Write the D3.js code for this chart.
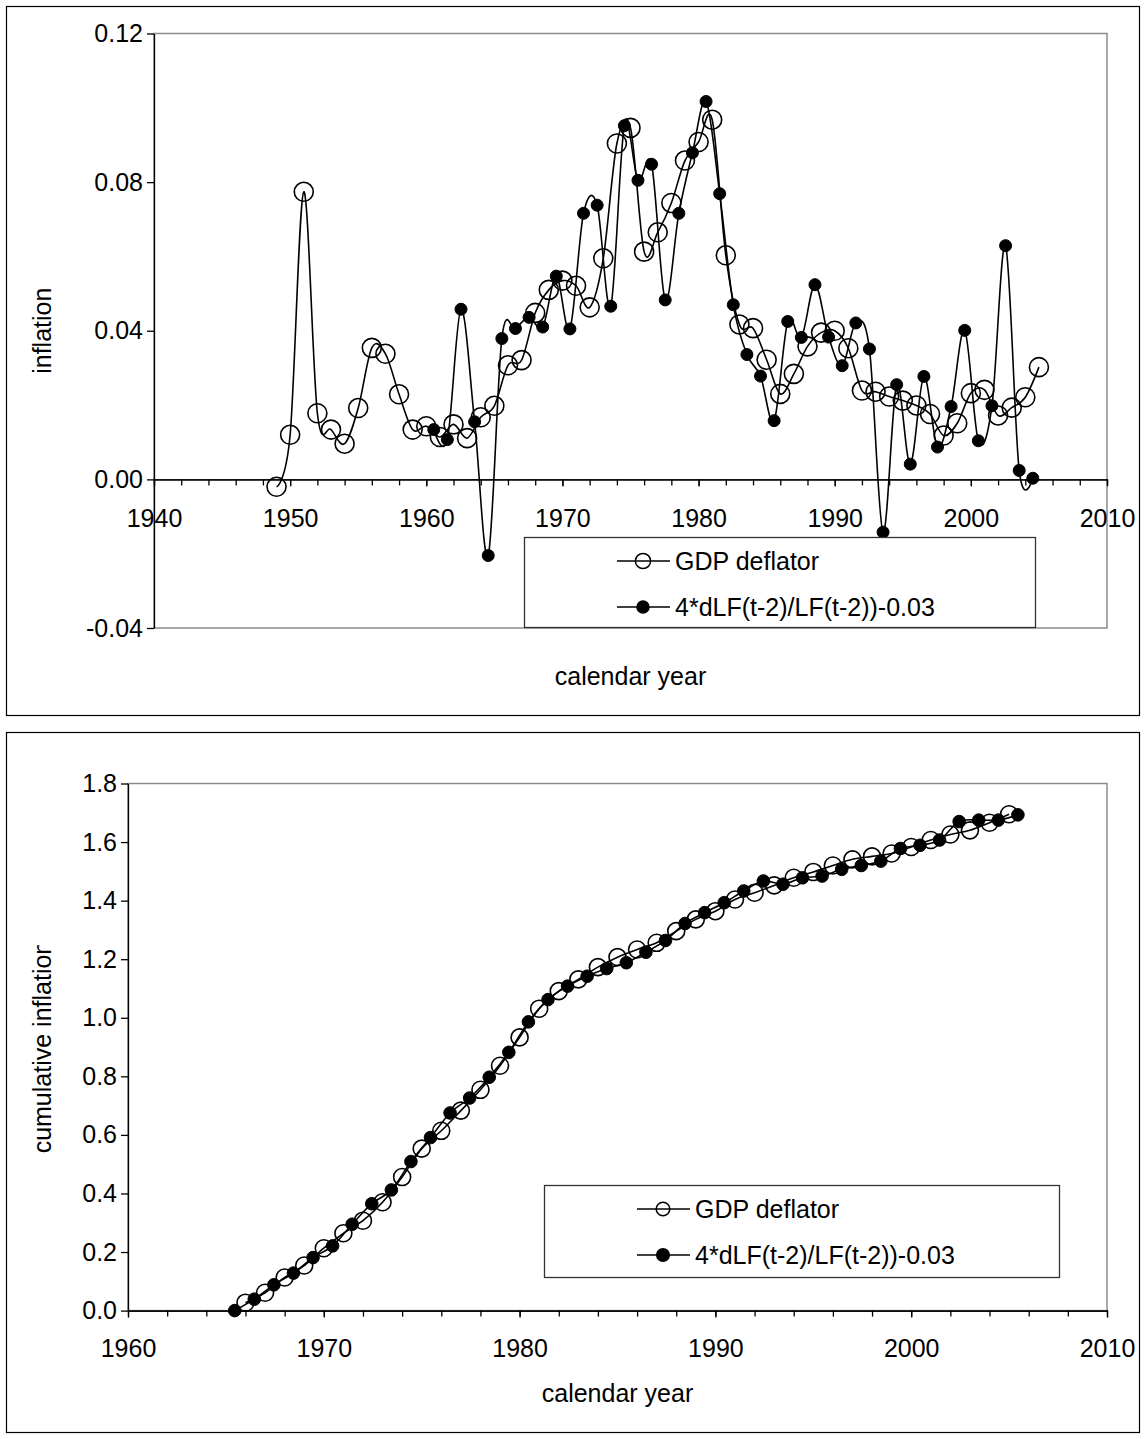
<!DOCTYPE html>
<html><head><meta charset="utf-8">
<script src="https://cdn.jsdelivr.net/npm/d3@7"></script>
<style>
html,body{margin:0;padding:0;background:#fff;}
text{font-family:"Liberation Sans",Arial,sans-serif;fill:#000;}
</style></head>
<body>
<svg id="chart" width="1146" height="1439"></svg>
<script>
// ---------- DATA ----------
const seriesNames = ["GDP deflator", "4*dLF(t-2)/LF(t-2))-0.03"];

// Top chart: annual inflation
const gdpYears = [1949,1950,1951,1952,1953,1954,1955,1956,1957,1958,1959,1960,1961,1962,1963,1964,1965,1966,1967,1968,1969,1970,1971,1972,1973,1974,1975,1976,1977,1978,1979,1980,1981,1982,1983,1984,1985,1986,1987,1988,1989,1990,1991,1992,1993,1994,1995,1996,1997,1998,1999,2000,2001,2002,2003,2004,2005];
const gdpInflation = [-0.002,0.012,0.0774,0.0178,0.0134,0.0096,0.0192,0.0354,0.0338,0.0229,0.0134,0.0143,0.0114,0.0148,0.0111,0.0167,0.0198,0.0307,0.0321,0.0448,0.0510,0.0535,0.0521,0.0463,0.0595,0.0904,0.0946,0.0613,0.0665,0.0744,0.0858,0.0908,0.0968,0.0603,0.0417,0.0407,0.0322,0.0230,0.0284,0.0358,0.0395,0.0400,0.0353,0.0239,0.0236,0.0223,0.0212,0.0199,0.0176,0.0118,0.0151,0.0232,0.0241,0.0172,0.0193,0.0221,0.0302];

const lfYears = [1960.55,1961.55,1962.55,1963.55,1964.55,1965.55,1966.55,1967.55,1968.55,1969.55,1970.55,1971.55,1972.55,1973.55,1974.55,1975.55,1976.55,1977.55,1978.55,1979.55,1980.55,1981.55,1982.55,1983.55,1984.55,1985.55,1986.55,1987.55,1988.55,1989.55,1990.55,1991.55,1992.55,1993.55,1994.55,1995.55,1996.55,1997.55,1998.55,1999.55,2000.55,2001.55,2002.55,2003.55,2004.55];
const lfInflation = [0.0134,0.0107,0.0458,0.0155,-0.0205,0.0379,0.0406,0.0436,0.0410,0.0547,0.0405,0.0716,0.0738,0.0466,0.0952,0.0805,0.0848,0.0483,0.0716,0.0879,0.1017,0.0769,0.0470,0.0336,0.0278,0.0158,0.0425,0.0382,0.0524,0.0383,0.0306,0.0421,0.0351,-0.0142,0.0255,0.0041,0.0277,0.0087,0.0196,0.0401,0.0104,0.0198,0.0629,0.0024,0.0003];

// Bottom chart: cumulative inflation
const gdpCumYears = [1966,1967,1968,1969,1970,1971,1972,1973,1974,1975,1976,1977,1978,1979,1980,1981,1982,1983,1984,1985,1986,1987,1988,1989,1990,1991,1992,1993,1994,1995,1996,1997,1998,1999,2000,2001,2002,2003,2004,2005];
const gdpCumulative = [0.027,0.061,0.113,0.154,0.213,0.264,0.307,0.370,0.456,0.553,0.614,0.683,0.754,0.836,0.933,1.031,1.091,1.131,1.173,1.207,1.233,1.256,1.296,1.336,1.364,1.404,1.427,1.452,1.478,1.498,1.520,1.541,1.551,1.561,1.583,1.607,1.626,1.640,1.666,1.695];

const lfCumYears = [1965.45,1966.45,1967.45,1968.45,1969.45,1970.45,1971.45,1972.45,1973.45,1974.45,1975.45,1976.45,1977.45,1978.45,1979.45,1980.45,1981.45,1982.45,1983.45,1984.45,1985.45,1986.45,1987.45,1988.45,1989.45,1990.45,1991.45,1992.45,1993.45,1994.45,1995.45,1996.45,1997.45,1998.45,1999.45,2000.45,2001.45,2002.45,2003.45,2004.45,2005.45];
const lfCumulative = [0.000,0.039,0.088,0.128,0.181,0.221,0.295,0.365,0.412,0.509,0.591,0.675,0.726,0.797,0.882,0.986,1.062,1.108,1.142,1.168,1.188,1.224,1.264,1.322,1.359,1.393,1.433,1.467,1.456,1.478,1.484,1.507,1.520,1.535,1.578,1.589,1.607,1.670,1.675,1.675,1.693];

// Axis ticks
const topYTicks = [-0.04, 0.00, 0.04, 0.08, 0.12];
const topXTicks = [1940,1950,1960,1970,1980,1990,2000,2010];
const topXMinor = [1940,1942,1944,1946,1948,1950,1952,1954,1956,1958,1960,1962,1964,1966,1968,1970,1972,1974,1976,1978,1980,1982,1984,1986,1988,1990,1992,1994,1996,1998,2000,2002,2004,2006,2008,2010];
const botYTicks = [0.0,0.2,0.4,0.6,0.8,1.0,1.2,1.4,1.6,1.8];
const botXTicks = [1960,1970,1980,1990,2000,2010];
const botXMinor = [1960,1962,1964,1966,1968,1970,1972,1974,1976,1978,1980,1982,1984,1986,1988,1990,1992,1994,1996,1998,2000,2002,2004,2006,2008,2010];

// ---------- DRAW ----------
const svg = d3.select("#chart");
const FONT = 25;
svg.append("rect").attr("width",1146).attr("height",1439).attr("fill","#fff");

function drawChart(cfg){
  const g = svg.append("g");
  // outer frame
  g.append("rect").attr("x",cfg.frame[0]+0.5).attr("y",cfg.frame[1]+0.5)
    .attr("width",cfg.frame[2]-cfg.frame[0]).attr("height",cfg.frame[3]-cfg.frame[1])
    .attr("fill","none").attr("stroke","#000").attr("stroke-width",1.2);
  const x = d3.scaleLinear().domain(cfg.xDomain).range([cfg.plot[0], cfg.plot[2]]);
  const y = d3.scaleLinear().domain(cfg.yDomain).range([cfg.plot[3], cfg.plot[1]]);
  // plot area border (grey)
  g.append("rect").attr("x",cfg.plot[0]).attr("y",cfg.plot[1])
    .attr("width",cfg.plot[2]-cfg.plot[0]).attr("height",cfg.plot[3]-cfg.plot[1])
    .attr("fill","none").attr("stroke","#8c8c8c").attr("stroke-width",1.5);
  // y axis
  const fmt = d3.format(cfg.yFmt);
  const ya = g.append("g").attr("transform",`translate(${cfg.plot[0]},0)`)
    .call(d3.axisLeft(y).tickValues(cfg.yTicks).tickFormat(d=>fmt(d).replace("\u2212","-")).tickSize(7).tickSizeOuter(0).tickPadding(4));
  ya.selectAll("text").style("font-size",FONT+"px").attr("font-family","Liberation Sans, Arial, sans-serif");
  // x axis at y = cfg.xAt
  const xAxisY = y(cfg.xAt);
  const xm = g.append("g").attr("transform",`translate(0,${xAxisY})`)
    .call(d3.axisBottom(x).tickValues(cfg.xMinor).tickFormat("").tickSize(6).tickSizeOuter(0));
  const xa = g.append("g").attr("transform",`translate(0,${xAxisY})`)
    .call(d3.axisBottom(x).tickValues(cfg.xTicks).tickFormat(d3.format("d")).tickSize(7).tickSizeOuter(0).tickPadding(cfg.xPad));
  xa.selectAll("text").style("font-size",FONT+"px").attr("font-family","Liberation Sans, Arial, sans-serif");
  [ya,xm,xa].forEach(a=>{a.selectAll("path,line").attr("stroke","#000").attr("stroke-width",1.3);});
  // axis titles
  g.append("text").attr("x",(cfg.plot[0]+cfg.plot[2])/2).attr("y",cfg.xTitleY)
    .attr("text-anchor","middle").attr("dominant-baseline","central")
    .style("font-size",FONT+"px").text("calendar year");
  const tg = g.append("g");
  const yt = tg.append("text").attr("transform",`translate(${cfg.yTitleX},${(cfg.plot[1]+cfg.plot[3])/2}) rotate(-90)`)
    .attr("text-anchor","middle").attr("dominant-baseline","central")
    .style("font-size",FONT+"px").text(cfg.yTitle);
  if(cfg.clipTitle){
    const bb = yt.node().getBoundingClientRect();
    const cid = "clipTitle"+Math.round(bb.top);
    svg.append("defs").append("clipPath").attr("id",cid).attr("clipPathUnits","userSpaceOnUse")
      .append("rect").attr("x",0).attr("y",bb.top+cfg.clipTitle).attr("width",200).attr("height",bb.height+20);
    tg.attr("clip-path",`url(#${cid})`);
  }
  // series
  const line = d3.line().x(d=>x(d[0])).y(d=>y(d[1])).curve(d3.curveCardinal.tension(0));
  const s1 = cfg.s1X.map((v,i)=>[v,cfg.s1Y[i]]);
  const s2 = cfg.s2X.map((v,i)=>[v,cfg.s2Y[i]]);
  g.append("path").datum(s1).attr("d",line).attr("fill","none").attr("stroke","#000").attr("stroke-width",1.6);
  g.selectAll(".o").data(s1).enter().append("circle")
    .attr("cx",d=>x(d[0])).attr("cy",d=>y(d[1])).attr("r",cfg.rOpen)
    .attr("fill","none").attr("stroke","#000").attr("stroke-width",1.6);
  g.append("path").datum(s2).attr("d",line).attr("fill","none").attr("stroke","#000").attr("stroke-width",1.6);
  g.selectAll(".f").data(s2).enter().append("circle")
    .attr("cx",d=>x(d[0])).attr("cy",d=>y(d[1])).attr("r",cfg.rFill)
    .attr("fill","#000").attr("stroke","#000").attr("stroke-width",1);
  // legend
  const L = cfg.legend; // [x0,y0,x1,y1]
  g.append("rect").attr("x",L[0]+0.5).attr("y",L[1]+0.5).attr("width",L[2]-L[0]).attr("height",L[3]-L[1])
    .attr("fill","#fff").attr("stroke","#333").attr("stroke-width",1.3);
  const rows = [L[1]+24, L[1]+70];
  seriesNames.forEach((name,i)=>{
    const ly = rows[i];
    g.append("line").attr("x1",L[0]+93).attr("x2",L[0]+146).attr("y1",ly).attr("y2",ly)
      .attr("stroke","#000").attr("stroke-width",1.6);
    g.append("circle").attr("cx",L[0]+119).attr("cy",ly).attr("r", i===0?cfg.rOpen*0.8:cfg.rFill)
      .attr("fill", i===0?"none":"#000").attr("stroke","#000").attr("stroke-width",1.5);
    g.append("text").attr("x",L[0]+151).attr("y",ly).attr("dominant-baseline","central")
      .style("font-size",FONT+"px").text(name);
  });
}

drawChart({
  frame:[6,6,1139,715],
  plot:[154,33.5,1107,628],
  xDomain:[1940,2010], yDomain:[-0.04,0.12],
  yTicks:topYTicks, yFmt:".2f",
  xTicks:topXTicks, xMinor:topXMinor, xAt:0, xPad:23,
  xTitleY:676, yTitle:"inflation", yTitleX:42,
  s1X:gdpYears, s1Y:gdpInflation, s2X:lfYears, s2Y:lfInflation,
  rOpen:9.5, rFill:6,
  legend:[524,537,1035,627]
});

drawChart({
  frame:[6,732,1139,1432],
  plot:[128,783.5,1107,1310.6],
  xDomain:[1960,2010], yDomain:[0,1.8],
  yTicks:botYTicks, yFmt:".1f",
  xTicks:botXTicks, xMinor:botXMinor, xAt:0, xPad:22,
  xTitleY:1393, yTitle:"cumulative inflation", yTitleX:42, clipTitle:4.5,
  s1X:gdpCumYears, s1Y:gdpCumulative, s2X:lfCumYears, s2Y:lfCumulative,
  rOpen:8.5, rFill:6.3,
  legend:[544,1185,1059,1277]
});
</script>
</body></html>
